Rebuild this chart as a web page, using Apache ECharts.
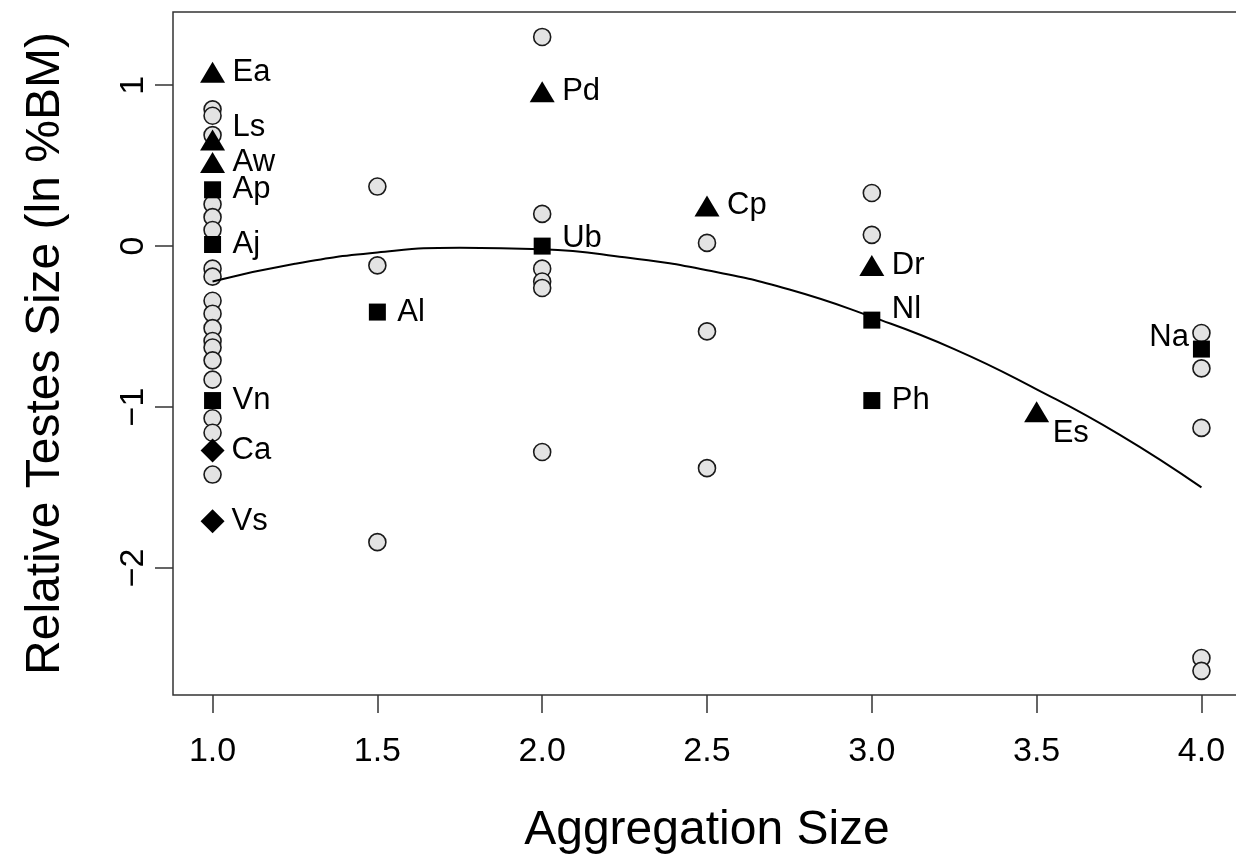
<!DOCTYPE html>
<html>
<head>
<meta charset="utf-8">
<script src="https://cdn.jsdelivr.net/npm/echarts@6.0.0/dist/echarts.min.js"></script>
<style>
  html, body { margin: 0; padding: 0; background: #fff; }
  #chart { width: 1236px; height: 855px; }
</style>
</head>
<body>
<div id="chart"></div>
<script>
// unlabelled species (grey circles)
var circleX = [1,1,1,1,1,1,1,1,1,1,1,1,1,1,1,1,1,1, 1.5,1.5,1.5, 2,2,2,2,2,2, 2.5,2.5,2.5, 3,3, 4,4,4,4,4];
var circleY = [0.85,0.81,0.69,0.26,0.18,0.10,-0.14,-0.19,-0.34,-0.42,-0.51,-0.59,-0.63,-0.71,-0.83,-1.07,-1.16,-1.42,
               0.37,-0.12,-1.84,
               1.30,0.20,-0.14,-0.22,-0.26,-1.28,
               0.02,-0.53,-1.38,
               0.33,0.07,
               -0.54,-0.76,-1.13,-2.56,-2.64];

// labelled species
var triNames = ['Ea', 'Ls', 'Aw', 'Pd', 'Cp', 'Dr', 'Es'];
var triX = [1, 1, 1, 2, 2.5, 3, 3.5];
var triY = [1.08, 0.66, 0.52, 0.96, 0.25, -0.12, -1.03];

var sqNames = ['Ap', 'Aj', 'Vn', 'Al', 'Ub', 'Nl', 'Ph', 'Na'];
var sqX = [1, 1, 1, 1.5, 2, 3, 3, 4];
var sqY = [0.35, 0.01, -0.96, -0.41, 0.0, -0.46, -0.96, -0.64];

var diaNames = ['Ca', 'Vs'];
var diaX = [1, 1];
var diaY = [-1.27, -1.71];

// fitted curve
var fitX = [1, 1.25, 1.5, 1.75, 2, 2.25, 2.5, 2.75, 3, 3.25, 3.5, 3.75, 4];
var fitY = [-0.22, -0.11, -0.04, -0.01, -0.02, -0.07, -0.15, -0.27, -0.44, -0.64, -0.89, -1.17, -1.50];

var xTicks = [1, 1.5, 2, 2.5, 3, 3.5, 4];
var yTicks = [-2, -1, 0, 1];

var labelTweaks = {
    Ls: {offset: [0, -12]},
    Es: {offset: [-4, 22]},
    Ub: {offset: [0, -8]},
    Nl: {offset: [0, -11]},
    Na: {position: 'left', distance: 4, offset: [0, -12]}
};

function pairs(xs, ys) {
    return xs.map(function(x, i) { return [x, ys[i]]; });
}
function items(names, xs, ys) {
    return names.map(function(n, i) {
        var it = {name: n, value: [xs[i], ys[i]]};
        if (labelTweaks[n]) it.label = labelTweaks[n];
        return it;
    });
}

var font = '"Liberation Sans", Helvetica, Arial, sans-serif';
var chart = echarts.init(document.getElementById('chart'));

function lbl(dist) {
    return {show: true, position: 'right', distance: dist, formatter: '{b}',
            color: '#000', fontSize: 31, fontFamily: font};
}

var option = {
    animation: false,
    backgroundColor: '#fff',
    grid: {left: 173, top: 12, width: 1068, height: 683, show: true, outerBoundsMode: 'none',
           borderColor: '#333', borderWidth: 1.5, backgroundColor: 'transparent'},
    xAxis: {
        type: 'value', min: 0.88, max: 4.12,
        name: 'Aggregation Size', nameLocation: 'middle', nameGap: 112,
        nameTextStyle: {fontSize: 48, color: '#000', fontFamily: font},
        axisLine: {show: false, onZero: false},
        splitLine: {show: false},
        axisTick: {show: true, inside: false, length: 18, customValues: xTicks,
                   lineStyle: {color: '#333', width: 1.5}},
        axisLabel: {customValues: xTicks, margin: 40, fontSize: 34, color: '#000', fontFamily: font,
                    formatter: function(v) { return v.toFixed(1); }}
    },
    yAxis: {
        type: 'value', min: -2.79, max: 1.455,
        name: 'Relative Testes Size (ln %BM)', nameLocation: 'middle', nameGap: 103, nameRotate: 90,
        nameTextStyle: {fontSize: 48, color: '#000', fontFamily: font},
        axisLine: {show: false, onZero: false},
        splitLine: {show: false},
        axisTick: {show: true, inside: false, length: 18, customValues: yTicks,
                   lineStyle: {color: '#333', width: 1.5}},
        axisLabel: {customValues: yTicks, margin: 22, rotate: 90, fontSize: 34, color: '#000', fontFamily: font,
                    formatter: function(v) { return v < 0 ? '\u2212' + Math.abs(v) : String(v); }}
    },
    series: [
        {
            type: 'scatter', symbol: 'circle', symbolSize: 17,
            itemStyle: {color: '#e3e3e3', borderColor: '#1a1a1a', borderWidth: 1.6, opacity: 1},
            data: pairs(circleX, circleY), emphasis: {disabled: true}
        },
        {
            type: 'line', smooth: true, showSymbol: false,
            lineStyle: {color: '#000', width: 2},
            data: pairs(fitX, fitY), emphasis: {disabled: true}
        },
        {
            type: 'scatter', symbol: 'triangle', symbolSize: [25, 21],
            itemStyle: {color: '#000', opacity: 1}, label: lbl(7.5),
            data: items(triNames, triX, triY), emphasis: {disabled: true}
        },
        {
            type: 'scatter', symbol: 'rect', symbolSize: 17,
            itemStyle: {color: '#000', opacity: 1}, label: lbl(11.5),
            data: items(sqNames, sqX, sqY), emphasis: {disabled: true}
        },
        {
            type: 'scatter', symbol: 'diamond', symbolSize: [24, 24],
            itemStyle: {color: '#000', opacity: 1}, label: lbl(7),
            data: items(diaNames, diaX, diaY), emphasis: {disabled: true}
        }
    ]
};

chart.setOption(option);
</script>
</body>
</html>
